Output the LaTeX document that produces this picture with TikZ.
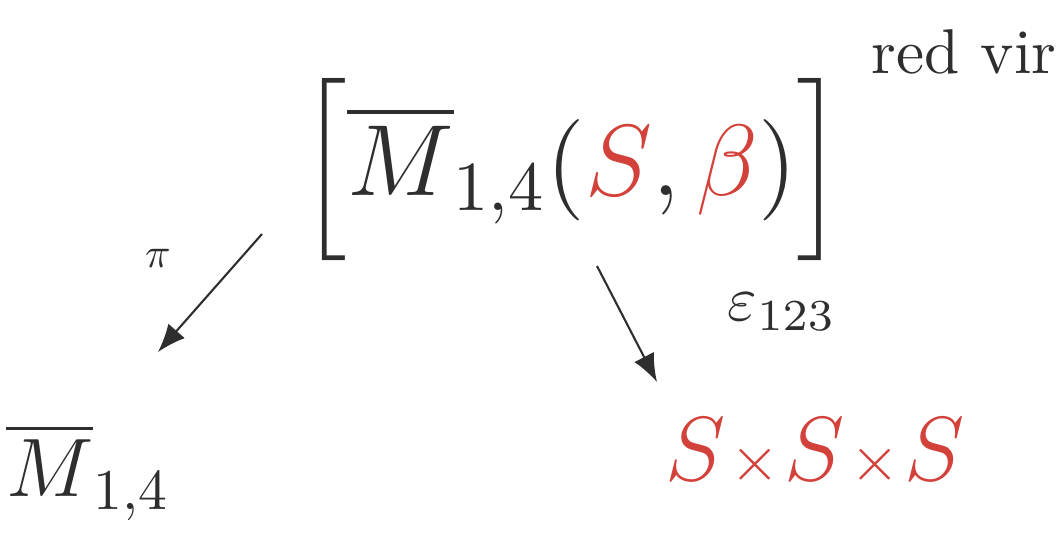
\documentclass[tikz,border=0pt]{standalone}
\usepackage{amsmath,amssymb}
\usepackage{xcolor}
\usepackage{tikz}
\usetikzlibrary{arrows.meta}
\definecolor{inkred}{HTML}{D2413A}
\definecolor{inkgray}{HTML}{2E2E2E}
\tikzset{space/.style={inner sep=0pt,text=inkgray,font=\Large},target/.style={space,text=inkred},map/.style={-{Latex[length=7mm,width=5.5mm]},draw=inkgray,line width=1.5pt},map label/.style={inner sep=0pt,text=inkgray}}
\begin{document}
\begin{tikzpicture}[x=0.025cm,y=-0.025cm]
 \useasboundingbox (0,0) rectangle (1063,544);
 \node[space,scale=5] (vclass) at (572,170) {$\Bigl[\overline{M}_{1,4}(\textcolor{inkred}{S},\textcolor{inkred}{\beta})\Bigr]$};
 \node[map label,scale=4.5,anchor=east] (redvir) at (1058,52) {red vir};
 \node[space,scale=4.1] (mbar) at (88,472) {$\overline{M}_{1,4}$};
 \node[target,scale=4.5] (sss) at (815,452) {$S\!\mathbin{\scriptstyle\times}\!S\!\mathbin{\scriptstyle\times}\!S$};
 \coordinate (pi tail) at (262,234);
 \coordinate (pi head) at (158,352);
 \coordinate (ev tail) at (597,266);
 \coordinate (ev head) at (657,382);
 \draw[map] (pi tail)--(pi head);
 \draw[map] (ev tail)--(ev head);
 \node[map label,scale=3] (pi) at (158,258) {$\pi$};
 \node[map label,scale=4.5] (ev) at (782,312) {$\varepsilon_{123}$};
\end{tikzpicture}
\end{document}
